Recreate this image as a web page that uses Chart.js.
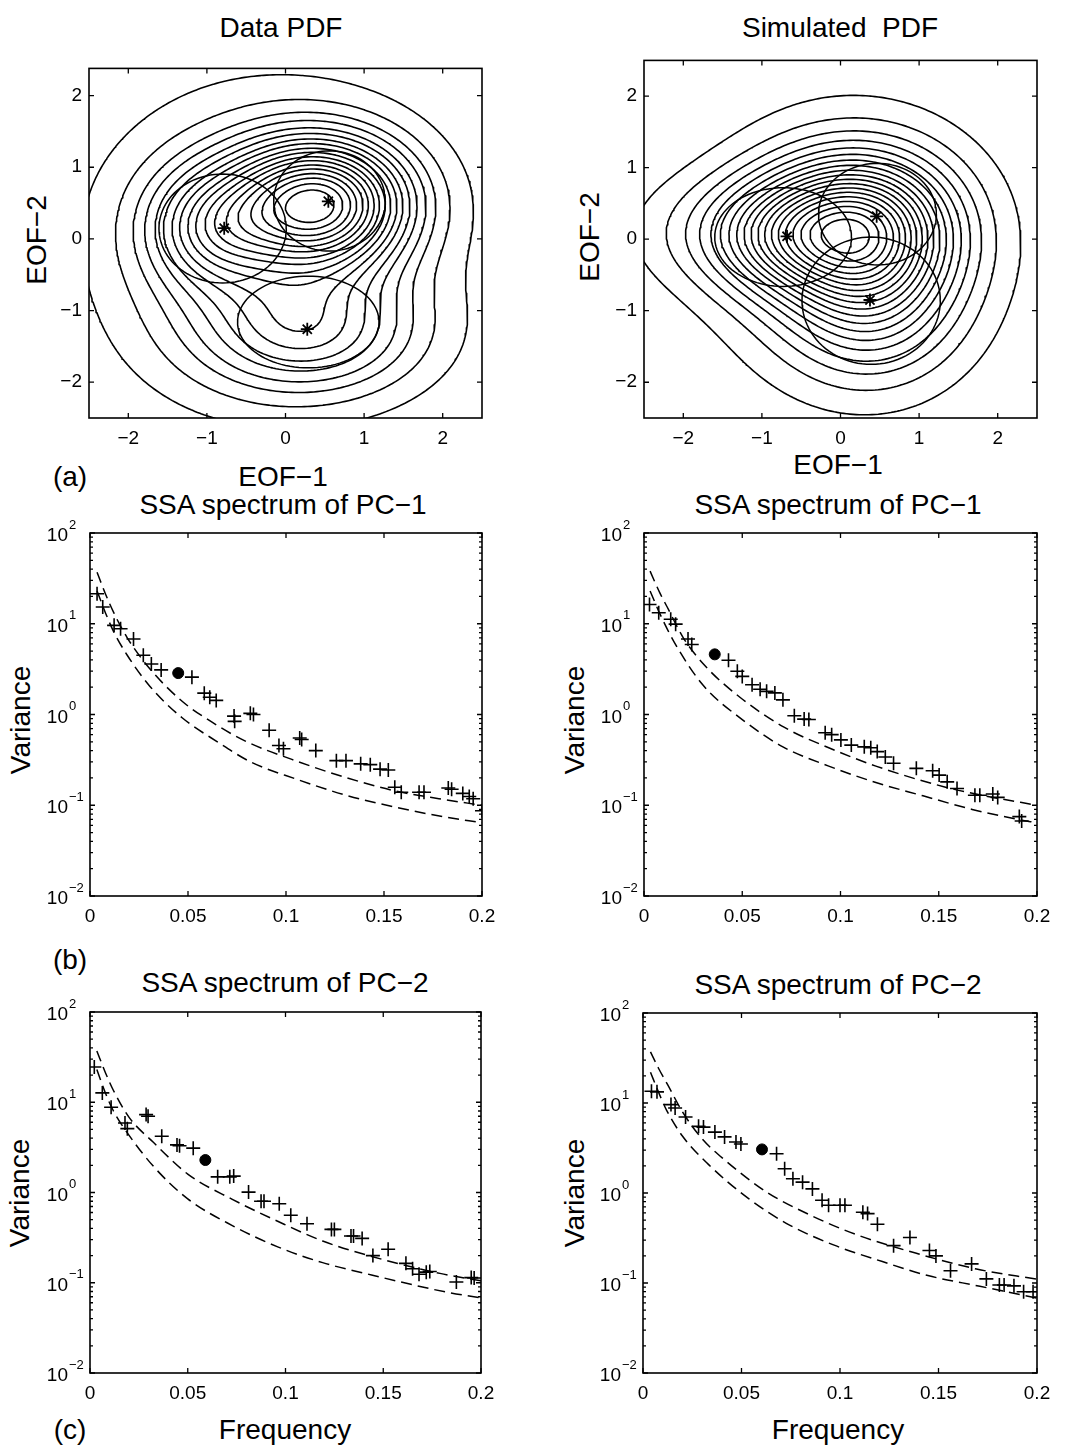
<!DOCTYPE html>
<html lang="en">
<head>
<meta charset="UTF-8">
<title>Data PDF / Simulated PDF and SSA spectra</title>
<script src="https://cdn.jsdelivr.net/npm/chart.js"></script>
<style>
  body { margin: 0; background: #fff; }
  #fig { position: relative; width: 1069px; height: 1448px; background: #fff; overflow: hidden;
         font-family: "Liberation Sans", Arial, sans-serif; color: #000; }
  #fig canvas { position: absolute; }
  .txt { position: absolute; font-size: 28px; line-height: 1; white-space: pre; transform: translate(-50%, -50%); }
  .txt.rot { transform: translate(-50%, -50%) rotate(-90deg); }
</style>
</head>
<body>
<div id="fig"></div>
<script>
// ---------- axes ----------
const pdfTicks = [-2, -1, 0, 1, 2];
const pdfTickLabels = ['−2', '−1', '0', '1', '2'];
const specXTicks = [0, 0.05, 0.1, 0.15, 0.2];
const specXTickLabels = ['0', '0.05', '0.1', '0.15', '0.2'];
const specYTicks = [0.01, 0.1, 1, 10, 100];
const specYExps = ['−2', '−1', '0', '1', '2'];

// ---------- (a) Data PDF ----------
// density read off the picture as a few bumps: centre, spread, height
const dataMixX = [0.42, -0.95, 0.3, -0.3];
const dataMixY = [0.5, 0.15, -1.3, -0.05];
const dataMixSx = [0.75, 0.55, 0.95, 1.3];
const dataMixSy = [0.6, 0.55, 0.6, 1.3];
const dataMixAmp = [1.0, 0.35, 0.35, 0.27];
const dataLevels = [0.05, 0.105, 0.16, 0.21, 0.265, 0.315, 0.37, 0.42, 0.475, 0.525, 0.58, 0.63, 0.685, 0.735, 0.79, 0.84, 0.895, 0.945];
const dataStarX = [-0.78, 0.545, 0.277];
const dataStarY = [0.15, 0.525, -1.26];
const dataEllX = [-0.80, 0.56, 0.29];
const dataEllY = [0.145, 0.53, -1.16];
const dataEllA = [0.81, 0.71, 0.90];
const dataEllB = [0.76, 0.70, 0.64];

// ---------- (a) Simulated PDF ----------
const simMixX = [0.2, -0.8, -1.4, 0.4, 0.15];
const simMixY = [0.15, 0.05, 0.1, -0.9, -0.15];
const simMixSx = [0.75, 0.6, 0.9, 0.7, 1.15];
const simMixSy = [0.65, 0.5, 0.55, 0.72, 1.2];
const simMixAmp = [1.0, 0.3, 0.14, 0.3, 0.3];
const simLevels = [0.05, 0.1, 0.15, 0.2, 0.25, 0.3, 0.35, 0.4, 0.45, 0.5, 0.55, 0.6, 0.65, 0.7, 0.75, 0.8, 0.85, 0.9, 0.95];
const simStarX = [-0.68, 0.46, 0.375];
const simStarY = [0.04, 0.32, -0.85];
const simEllX = [-0.73, 0.47, 0.39];
const simEllY = [0.03, 0.35, -0.86];
const simEllA = [0.87, 0.75, 0.88];
const simEllB = [0.69, 0.71, 0.89];

// ---------- (b) SSA spectrum of PC-1, data ----------
const b1Freq = [0.0036, 0.0065, 0.0123, 0.0156, 0.0222, 0.0272, 0.0313, 0.0363, 0.052, 0.0583, 0.0611, 0.0644, 0.0735, 0.0738, 0.0818, 0.0834, 0.0914, 0.0964, 0.0987, 0.107, 0.108, 0.1152, 0.1257, 0.1306, 0.1381, 0.143, 0.148, 0.1522, 0.1555, 0.1588, 0.1679, 0.1704, 0.1828, 0.1845, 0.1902, 0.1935, 0.1955, 0.2];
const b1Var = [21.4, 15.3, 9.6, 8.8, 6.8, 4.5, 3.6, 3.1, 2.58, 1.72, 1.55, 1.43, 0.96, 0.84, 1.03, 1.0, 0.67, 0.455, 0.42, 0.55, 0.53, 0.40, 0.31, 0.31, 0.286, 0.28, 0.25, 0.245, 0.158, 0.139, 0.139, 0.139, 0.155, 0.15, 0.135, 0.125, 0.118, 0.087];
const b1PeakFreq = [0.045];
const b1PeakVar = [2.86];
const b1UpFreq = [0.0036, 0.008, 0.0123, 0.019, 0.0305, 0.047, 0.064, 0.08, 0.103, 0.128, 0.155, 0.178, 0.2];
const b1UpVar = [37, 21, 13, 7, 3.2, 1.4, 0.78, 0.5, 0.32, 0.21, 0.145, 0.118, 0.1];
const b1LoFreq = [0.0036, 0.008, 0.0123, 0.019, 0.0305, 0.047, 0.065, 0.082, 0.105, 0.13, 0.156, 0.18, 0.2];
const b1LoVar = [23, 13, 8, 4.5, 2.05, 0.92, 0.5, 0.3, 0.195, 0.13, 0.095, 0.075, 0.064];

// ---------- (b) SSA spectrum of PC-1, simulated ----------
const b2Freq = [0.0028, 0.0075, 0.0136, 0.0161, 0.0224, 0.0243, 0.043, 0.0475, 0.05, 0.055, 0.0591, 0.0624, 0.0666, 0.0707, 0.0765, 0.0815, 0.0839, 0.0922, 0.0955, 0.1002, 0.1055, 0.1121, 0.1154, 0.1187, 0.1228, 0.127, 0.1386, 0.1469, 0.1502, 0.1543, 0.1593, 0.1684, 0.1709, 0.1775, 0.18, 0.191, 0.1922];
const b2Var = [16.3, 13.2, 11.2, 9.9, 6.8, 5.9, 3.96, 3.0, 2.63, 2.13, 1.9, 1.8, 1.73, 1.45, 0.97, 0.89, 0.88, 0.63, 0.60, 0.525, 0.46, 0.44, 0.43, 0.39, 0.34, 0.29, 0.255, 0.24, 0.215, 0.181, 0.153, 0.129, 0.129, 0.133, 0.122, 0.075, 0.067];
const b2PeakFreq = [0.036];
const b2PeakVar = [4.6];
const b2UpFreq = [0.0031, 0.008, 0.012, 0.02, 0.0313, 0.0488, 0.0715, 0.094, 0.118, 0.1535, 0.175, 0.2];
const b2UpVar = [38, 22, 15, 7, 3.4, 1.55, 0.72, 0.43, 0.27, 0.158, 0.125, 0.1];
const b2LoFreq = [0.0031, 0.008, 0.0155, 0.0301, 0.05, 0.0707, 0.094, 0.118, 0.142, 0.167, 0.19, 0.2];
const b2LoVar = [23, 13, 6.2, 2.1, 0.88, 0.44, 0.27, 0.178, 0.127, 0.09, 0.07, 0.064];

// ---------- (c) SSA spectrum of PC-2, data ----------
const c1Freq = [0.0022, 0.0063, 0.0108, 0.0179, 0.0191, 0.0287, 0.0297, 0.0367, 0.0445, 0.0458, 0.0528, 0.0653, 0.0715, 0.0735, 0.0811, 0.0875, 0.089, 0.0968, 0.1027, 0.111, 0.1235, 0.125, 0.1335, 0.1348, 0.1392, 0.1447, 0.1525, 0.1616, 0.165, 0.1683, 0.172, 0.1738, 0.1874, 0.195, 0.1965];
const c1Var = [24.6, 12.7, 8.8, 5.9, 5.1, 7.3, 7.0, 4.2, 3.37, 3.3, 3.1, 1.49, 1.49, 1.52, 1.01, 0.80, 0.80, 0.75, 0.56, 0.45, 0.39, 0.39, 0.33, 0.33, 0.31, 0.2, 0.235, 0.164, 0.143, 0.124, 0.131, 0.133, 0.102, 0.114, 0.113];
const c1PeakFreq = [0.059];
const c1PeakVar = [2.29];
const c1UpFreq = [0.0035, 0.008, 0.012, 0.02, 0.0324, 0.05, 0.0728, 0.096, 0.119, 0.1425, 0.179, 0.2];
const c1UpVar = [37, 21, 13.5, 6.8, 3.6, 1.6, 0.84, 0.48, 0.29, 0.2, 0.127, 0.105];
const c1LoFreq = [0.0035, 0.008, 0.012, 0.02, 0.0329, 0.05, 0.0728, 0.096, 0.119, 0.144, 0.182, 0.2];
const c1LoVar = [23, 12.5, 8, 4.3, 1.9, 0.85, 0.43, 0.25, 0.167, 0.122, 0.079, 0.068];

// ---------- (c) SSA spectrum of PC-2, simulated ----------
const c2Freq = [0.0043, 0.0071, 0.0142, 0.0163, 0.0216, 0.0282, 0.0307, 0.0365, 0.0414, 0.0472, 0.0497, 0.0678, 0.0719, 0.0761, 0.081, 0.086, 0.0909, 0.0942, 0.1, 0.1025, 0.1116, 0.114, 0.119, 0.1272, 0.1355, 0.1454, 0.1487, 0.1561, 0.1668, 0.1743, 0.1809, 0.1833, 0.1883, 0.1932, 0.198];
const c2Var = [13.5, 13.3, 9.6, 8.8, 7.0, 5.5, 5.4, 4.75, 4.2, 3.68, 3.5, 2.73, 1.86, 1.44, 1.32, 1.11, 0.83, 0.73, 0.73, 0.73, 0.61, 0.59, 0.45, 0.26, 0.32, 0.23, 0.2, 0.137, 0.163, 0.111, 0.095, 0.095, 0.093, 0.08, 0.08];
const c2PeakFreq = [0.0604];
const c2PeakVar = [3.05];
const c2UpFreq = [0.0038, 0.008, 0.0125, 0.02, 0.03, 0.0422, 0.0629, 0.0855, 0.1083, 0.14, 0.1693, 0.2];
const c2UpVar = [37, 24, 16, 8, 4.0, 2.26, 1.02, 0.56, 0.345, 0.21, 0.143, 0.11];
const c2LoFreq = [0.0038, 0.008, 0.012, 0.02, 0.0332, 0.0538, 0.0744, 0.0967, 0.1215, 0.1446, 0.171, 0.2];
const c2LoVar = [22, 13, 8.3, 4.3, 2.08, 0.86, 0.44, 0.265, 0.173, 0.121, 0.092, 0.068];

// ---------- layout (plot boxes in page pixels) ----------
const boxes = {
  pdfData: { l: 89, t: 65, w: 393, h: 353 },
  pdfSim: { l: 644, t: 57, w: 393, h: 361 },
  b1: { l: 90, t: 533, w: 392, h: 363 },
  b2: { l: 644, t: 533, w: 393, h: 363 },
  c1: { l: 90, t: 1012, w: 391, h: 361 },
  c2: { l: 643, t: 1013, w: 394, h: 360 }
};

const texts = [
  ['Data PDF', 281, 28], ['Simulated  PDF', 840, 28],
  ['EOF−2', 37, 240, true], ['EOF−2', 590, 237, true],
  ['EOF−1', 283, 477], ['EOF−1', 838, 465],
  ['(a)', 70, 477],
  ['SSA spectrum of PC−1', 283, 505], ['SSA spectrum of PC−1', 838, 505],
  ['Variance', 21, 720, true], ['Variance', 575, 720, true],
  ['(b)', 70, 960],
  ['SSA spectrum of PC−2', 285, 983], ['SSA spectrum of PC−2', 838, 985],
  ['Variance', 20, 1193, true], ['Variance', 575, 1193, true],
  ['Frequency', 285, 1430], ['Frequency', 838, 1430],
  ['(c)', 70, 1430]
];

Chart.defaults.font.family = '"Liberation Sans", Arial, sans-serif';
Chart.defaults.color = '#000';
const fig = document.getElementById('fig');

texts.forEach(([s, x, y, rot]) => {
  const d = document.createElement('div');
  d.className = 'txt' + (rot ? ' rot' : '');
  d.textContent = s;
  d.style.left = x + 'px';
  d.style.top = y + 'px';
  fig.appendChild(d);
});

// ---------- contour helpers ----------
function densityGrid(mx, my, sx, sy, amp) {
  const xs = [], ys = [];
  for (let i = 0; i <= 140; i++) { xs.push(-2.8 + i * 0.04); ys.push(-2.8 + i * 0.04); }
  let max = 0;
  const F = ys.map(y => xs.map(x => {
    let s = 0;
    for (let k = 0; k < mx.length; k++) {
      const dx = (x - mx[k]) / sx[k], dy = (y - my[k]) / sy[k];
      s += amp[k] * Math.exp(-0.5 * (dx * dx + dy * dy));
    }
    if (s > max) max = s;
    return s;
  }));
  return { xs, ys, F, max };
}

// marching squares, then join the little segments into polylines
function contourAt(g, level) {
  const { xs, ys, F } = g;
  const pts = {}, segs = [];
  const cut = (k, x0, y0, v0, x1, y1, v1) => {
    if (!(k in pts)) {
      const t = (level - v0) / (v1 - v0);
      pts[k] = { x: x0 + t * (x1 - x0), y: y0 + t * (y1 - y0) };
    }
    return k;
  };
  for (let j = 0; j < ys.length - 1; j++) {
    for (let i = 0; i < xs.length - 1; i++) {
      const a = F[j][i], b = F[j][i + 1], c = F[j + 1][i + 1], d = F[j + 1][i];
      const ia = a >= level, ib = b >= level, ic = c >= level, id = d >= level;
      if (ia === ib && ib === ic && ic === id) continue;
      const eb = ia !== ib ? cut('h' + i + '_' + j, xs[i], ys[j], a, xs[i + 1], ys[j], b) : null;
      const er = ib !== ic ? cut('v' + (i + 1) + '_' + j, xs[i + 1], ys[j], b, xs[i + 1], ys[j + 1], c) : null;
      const et = id !== ic ? cut('h' + i + '_' + (j + 1), xs[i], ys[j + 1], d, xs[i + 1], ys[j + 1], c) : null;
      const el = ia !== id ? cut('v' + i + '_' + j, xs[i], ys[j], a, xs[i], ys[j + 1], d) : null;
      const e = [eb, er, et, el].filter(k => k !== null);
      if (e.length === 2) segs.push(e);
      else if (e.length === 4) {
        const mid = (a + b + c + d) / 4 >= level;
        if (mid === ia) { segs.push([eb, er]); segs.push([et, el]); }
        else { segs.push([eb, el]); segs.push([er, et]); }
      }
    }
  }
  const adj = {};
  segs.forEach((s, n) => {
    (adj[s[0]] = adj[s[0]] || []).push(n);
    (adj[s[1]] = adj[s[1]] || []).push(n);
  });
  const used = new Array(segs.length).fill(false);
  const lines = [];
  for (let n = 0; n < segs.length; n++) {
    if (used[n]) continue;
    used[n] = true;
    const chain = [segs[n][0], segs[n][1]];
    for (let dir = 0; dir < 2; dir++) {
      while (true) {
        const end = dir === 0 ? chain[chain.length - 1] : chain[0];
        const nx = adj[end].find(m => !used[m]);
        if (nx === undefined) break;
        used[nx] = true;
        const other = segs[nx][0] === end ? segs[nx][1] : segs[nx][0];
        if (dir === 0) chain.push(other); else chain.unshift(other);
      }
    }
    lines.push(chain.map(k => pts[k]));
  }
  return lines;
}

function pdfDatasets(mx, my, sx, sy, amp, levels, ex, ey, ea, eb, stx, sty) {
  const g = densityGrid(mx, my, sx, sy, amp);
  const sets = levels.map(lv => {
    const data = [];
    contourAt(g, lv * g.max).forEach(line => { data.push(...line, { x: null, y: null }); });
    return { data, showLine: true, spanGaps: false, borderColor: '#000', borderWidth: 1.6,
             borderJoinStyle: 'round', borderCapStyle: 'round', pointRadius: 0 };
  });
  ex.forEach((cx, k) => {
    const data = [];
    for (let s = 0; s <= 96; s++) {
      const t = s / 96 * 2 * Math.PI;
      data.push({ x: cx + ea[k] * Math.cos(t), y: ey[k] + eb[k] * Math.sin(t) });
    }
    sets.push({ data, showLine: true, borderColor: '#000', borderWidth: 1.5, pointRadius: 0 });
  });
  sets.push({ data: stx.map((x, k) => ({ x, y: sty[k] })), showLine: false, pointStyle: 'star',
              pointRadius: 6.5, pointBorderWidth: 1.8, pointBorderColor: '#000', pointBackgroundColor: '#000' });
  return sets;
}

function specDatasets(f, v, pf, pv, uf, uv, lf, lv) {
  const pts = (a, b) => a.map((x, i) => ({ x, y: b[i] }));
  const dashed = { showLine: true, borderColor: '#000', borderWidth: 1.5, borderDash: [11, 6],
                   pointRadius: 0, cubicInterpolationMode: 'monotone' };
  return [
    Object.assign({ data: pts(uf, uv) }, dashed),
    Object.assign({ data: pts(lf, lv) }, dashed),
    { data: pts(f, v), showLine: false, pointStyle: 'cross', pointRadius: 7,
      pointBorderWidth: 1.6, pointBorderColor: '#000' },
    { data: pts(pf, pv), showLine: false, pointStyle: 'circle', pointRadius: 5.5,
      pointBorderColor: '#000', pointBackgroundColor: '#000', pointBorderWidth: 1 }
  ];
}

// ---------- frame: box, inward ticks, log labels ----------
function framePlugin(logExps) {
  return {
    id: 'frame',
    afterDraw(chart) {
      const { ctx, chartArea: a, scales: { x, y } } = chart;
      ctx.save();
      ctx.strokeStyle = '#000';
      ctx.lineWidth = 1.3;
      ctx.beginPath();
      const seg = (x0, y0, x1, y1) => { ctx.moveTo(x0, y0); ctx.lineTo(x1, y1); };
      x.ticks.forEach(t => {
        const px = x.getPixelForValue(t.value);
        seg(px, a.bottom, px, a.bottom - 5);
        seg(px, a.top, px, a.top + 5);
      });
      y.ticks.forEach(t => {
        const py = y.getPixelForValue(t.value);
        seg(a.left, py, a.left + 5, py);
        seg(a.right, py, a.right - 5, py);
      });
      if (logExps) {
        for (let e = -2; e < 2; e++) {
          for (let m = 2; m <= 9; m++) {
            const py = y.getPixelForValue(m * Math.pow(10, e));
            seg(a.left, py, a.left + 3, py);
            seg(a.right, py, a.right - 3, py);
          }
        }
      }
      ctx.stroke();
      ctx.lineWidth = 1.6;
      ctx.strokeRect(a.left, a.top, a.right - a.left, a.bottom - a.top);
      if (logExps) {
        ctx.fillStyle = '#000';
        ctx.textBaseline = 'middle';
        y.ticks.forEach((t, i) => {
          const py = y.getPixelForValue(t.value);
          ctx.font = '19px "Liberation Sans", Arial, sans-serif';
          ctx.textAlign = 'right';
          ctx.fillText('10', a.left - 22, py + 3);
          ctx.font = '13px "Liberation Sans", Arial, sans-serif';
          ctx.textAlign = 'left';
          ctx.fillText(logExps[i], a.left - 21, py - 8);
        });
      }
      ctx.restore();
    }
  };
}

function linearAxis(min, max, vals, labels, isX) {
  return {
    type: 'linear', min, max,
    grid: { display: false, drawTicks: false },
    border: { display: false },
    ticks: { color: '#000', font: { size: 19 }, padding: isX ? 9 : 7, autoSkip: false, maxRotation: 0,
             callback: (v, i) => labels[i] },
    afterBuildTicks: s => { s.ticks = vals.map(v => ({ value: v })); },
    afterFit: s => { if (isX) s.height = 45; else s.width = 70; }
  };
}

function logAxis() {
  return {
    type: 'logarithmic', min: 0.01, max: 100,
    grid: { display: false, drawTicks: false },
    border: { display: false },
    ticks: { display: false },
    afterBuildTicks: s => { s.ticks = specYTicks.map(v => ({ value: v })); },
    afterFit: s => { s.width = 70; }
  };
}

function addChart(p, datasets, xAxis, yAxis, logExps) {
  const c = document.createElement('canvas');
  const W = p.w + 100, H = p.h + 60;
  c.width = W; c.height = H;
  c.style.width = W + 'px'; c.style.height = H + 'px';
  c.style.left = (p.l - 70) + 'px';
  c.style.top = (p.t - 15) + 'px';
  fig.appendChild(c);
  return new Chart(c, {
    type: 'scatter',
    data: { datasets },
    options: {
      responsive: false, animation: false, devicePixelRatio: 1, events: [],
      layout: { padding: { top: 15, right: 30, left: 0, bottom: 0 } },
      plugins: { legend: { display: false }, tooltip: { enabled: false } },
      scales: { x: xAxis, y: yAxis }
    },
    plugins: [framePlugin(logExps)]
  });
}

addChart(boxes.pdfData,
  pdfDatasets(dataMixX, dataMixY, dataMixSx, dataMixSy, dataMixAmp, dataLevels,
              dataEllX, dataEllY, dataEllA, dataEllB, dataStarX, dataStarY),
  linearAxis(-2.5, 2.5, pdfTicks, pdfTickLabels, true),
  linearAxis(-2.5, 2.38, pdfTicks, pdfTickLabels, false), null);

addChart(boxes.pdfSim,
  pdfDatasets(simMixX, simMixY, simMixSx, simMixSy, simMixAmp, simLevels,
              simEllX, simEllY, simEllA, simEllB, simStarX, simStarY),
  linearAxis(-2.5, 2.5, pdfTicks, pdfTickLabels, true),
  linearAxis(-2.5, 2.5, pdfTicks, pdfTickLabels, false), null);

const specX = () => linearAxis(0, 0.2, specXTicks, specXTickLabels, true);

addChart(boxes.b1, specDatasets(b1Freq, b1Var, b1PeakFreq, b1PeakVar, b1UpFreq, b1UpVar, b1LoFreq, b1LoVar),
  specX(), logAxis(), specYExps);
addChart(boxes.b2, specDatasets(b2Freq, b2Var, b2PeakFreq, b2PeakVar, b2UpFreq, b2UpVar, b2LoFreq, b2LoVar),
  specX(), logAxis(), specYExps);
addChart(boxes.c1, specDatasets(c1Freq, c1Var, c1PeakFreq, c1PeakVar, c1UpFreq, c1UpVar, c1LoFreq, c1LoVar),
  specX(), logAxis(), specYExps);
addChart(boxes.c2, specDatasets(c2Freq, c2Var, c2PeakFreq, c2PeakVar, c2UpFreq, c2UpVar, c2LoFreq, c2LoVar),
  specX(), logAxis(), specYExps);
</script>
</body>
</html>
